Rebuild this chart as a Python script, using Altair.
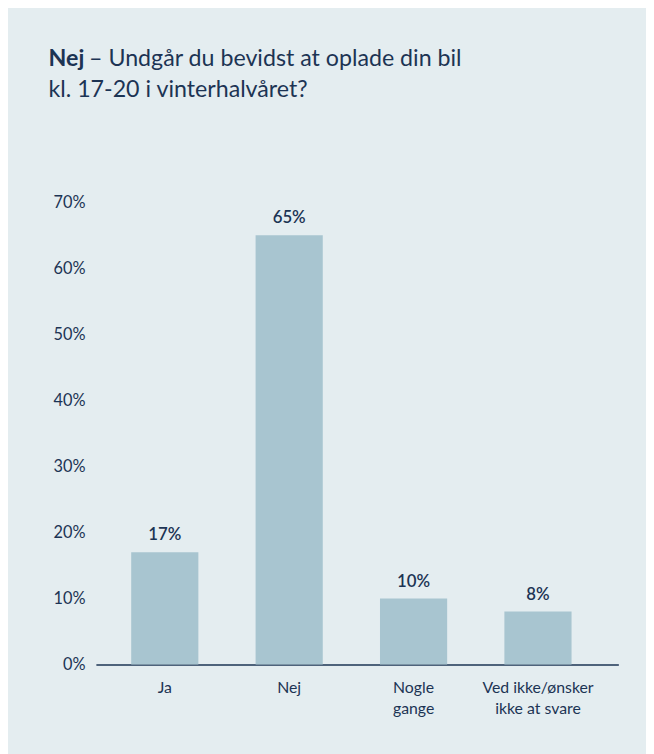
import altair as alt
import pandas as pd

categories = ["Ja", "Nej", "Nogle\ngange", "Ved ikke/ønsker\nikke at svare"]
values = [0.17, 0.65, 0.10, 0.08]
y_ticks = [0, 0.1, 0.2, 0.3, 0.4, 0.5, 0.6, 0.7]

title_bold = "Nej"
title_rest = "– Undgår du bevidst at oplade din bil"
title_line2 = "kl. 17-20 i vinterhalvåret?"

NAVY = "#1c3454"
BAR = "#a8c5d0"
BG = "#e4edf0"
FONT = "Lato"

df = pd.DataFrame({"cat": categories, "val": values})

x = alt.X(
    "cat:N",
    sort=categories,
    scale=alt.Scale(paddingInner=0.46, paddingOuter=0.33, align=0.43),
    axis=alt.Axis(
        title=None,
        labelAngle=0,
        labelExpr="split(datum.label, '\\n')",
        labelPadding=15,
        labelFontSize=16,
        labelLineHeight=22,
        labelColor=NAVY,
        labelFont=FONT,
        ticks=False,
        domain=True,
        domainColor=NAVY,
        domainWidth=1.5,
        labelBaseline="top",
    ),
)
y = alt.Y(
    "val:Q",
    scale=alt.Scale(domain=[0, 0.7], nice=False),
    axis=alt.Axis(
        title=None,
        values=y_ticks,
        format=".0%",
        ticks=False,
        domain=False,
        grid=False,
        labelPadding=11,
        labelFontSize=16.5,
        labelColor=NAVY,
        labelFont=FONT,
    ),
)

bars = alt.Chart(df).mark_bar(color=BAR).encode(x=x, y=y)
labels = alt.Chart(df).mark_text(
    baseline="bottom", dy=-8, fontSize=17, fontWeight=600, color=NAVY, font=FONT
).encode(x=alt.X("cat:N", sort=categories), y="val:Q", text=alt.Text("val:Q", format=".0%"))

chart = (
    alt.layer(bars, labels)
    .properties(
        width=529,
        height=468,
        padding={"left": 89, "top": 192, "right": 28, "bottom": 86},
        autosize=alt.AutoSizeParams(type="none"),
        background=BG,
        title=alt.TitleParams(
            text=title_bold,
            subtitle=["\u200b\u2003\u2003\u2009\u2009" + title_rest, title_line2],
            anchor="start",
            frame="group",
            dx=-48,
            offset=94,
            font=FONT,
            subtitleFont=FONT,
            fontSize=23.5,
            subtitleFontSize=23.5,
            fontWeight="bold",
            subtitleFontWeight="normal",
            color=NAVY,
            subtitleColor=NAVY,
            subtitleLineHeight=31,
            subtitlePadding=-23.5,
        ),
    )
    .configure_view(stroke=None)
)

chart.save("out.html", embed_options={"renderer": "svg", "actions": False})
